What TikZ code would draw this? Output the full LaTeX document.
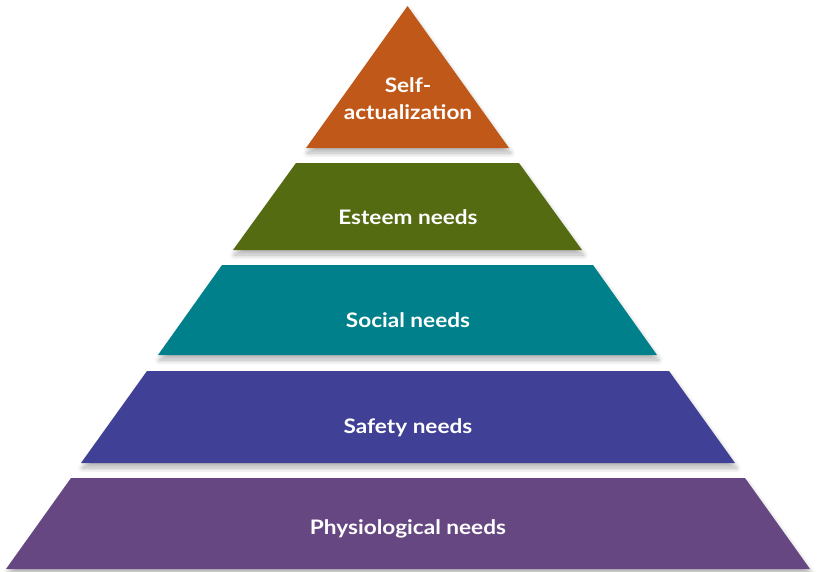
\documentclass[tikz,border=0pt]{standalone}
\usepackage{fontspec}
\setmainfont{Lato}[FakeStretch=1.13]
\usepackage{xcolor}
\usepackage{tikz}
\usetikzlibrary{shadows.blur}

\definecolor{naranja}{RGB}{191,88,24}
\definecolor{oliva}{RGB}{84,107,18}
\definecolor{petroleo}{RGB}{0,128,139}
\definecolor{indigo}{RGB}{64,64,150}
\definecolor{morado}{RGB}{103,71,130}

\begin{document}
\begin{tikzpicture}[
  x=1pt,y=-1pt,
  capa/.style={blur shadow={shadow blur steps=10,shadow xshift=1.5pt,
               shadow yshift=-5pt,shadow opacity=30,shadow blur radius=5pt}},
  rotulo/.style={text=white,align=center,inner sep=0pt,anchor=base,
                 font=\bfseries\fontsize{20}{27}\selectfont}]
  \useasboundingbox (0,0) rectangle (818,571);
  % niveles de la piramide, de abajo hacia arriba
  \fill[morado,capa]   (71,478) -- (745,478) -- (810,569) -- (6,569) -- cycle;
  \fill[indigo,capa]   (147,371) -- (669,371) -- (735,463) -- (81,463) -- cycle;
  \fill[petroleo,capa] (222,265) -- (593,265) -- (657,355) -- (158,355) -- cycle;
  \fill[oliva,capa]    (296,163) -- (519,163) -- (582,250) -- (233,250) -- cycle;
  \fill[naranja,capa]  (407.5,6) -- (509,148) -- (306,148) -- cycle;
  \node[rotulo] (auto)  at (408,119) {Self-\\actualization};
  \node[rotulo] (estima) at (408,224) {Esteem needs};
  \node[rotulo] (social) at (408,327) {Social needs};
  \node[rotulo] (seguridad) at (408,433) {Safety needs};
  \node[rotulo] (fisio) at (408,534) {Physiological needs};
\end{tikzpicture}
\end{document}
